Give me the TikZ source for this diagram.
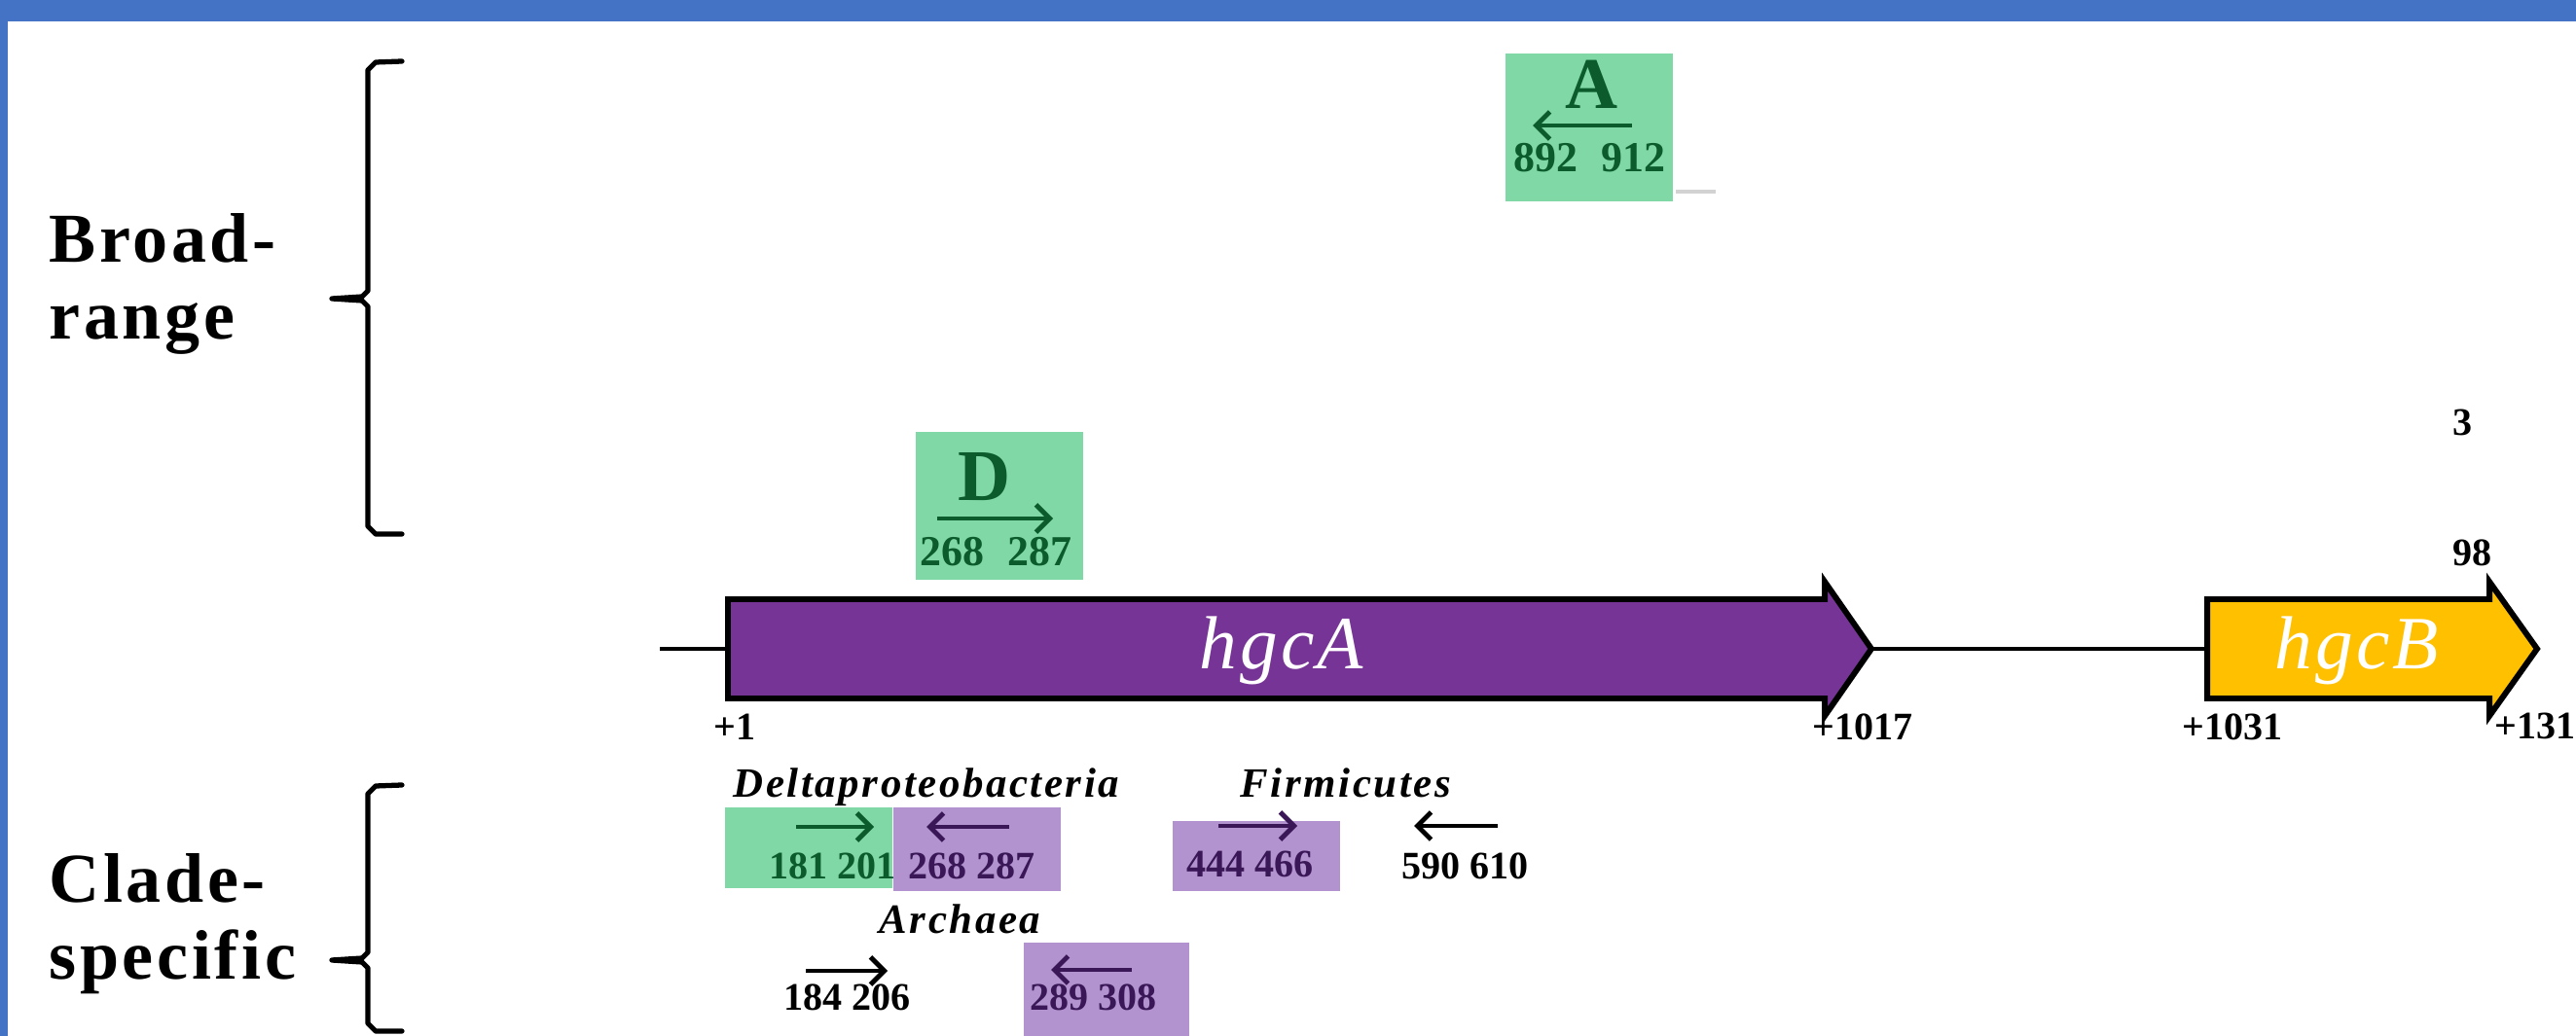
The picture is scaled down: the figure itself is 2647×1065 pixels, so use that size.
\documentclass[tikz,border=0pt]{standalone}
\usepackage{fontspec}
\setmainfont{Liberation Serif}
\usetikzlibrary{arrows.meta}
\definecolor{bandblue}{HTML}{4472C4}
\definecolor{boxgreen}{HTML}{80D8A6}
\definecolor{txtgreen}{HTML}{0B5B2C}
\definecolor{boxpurple}{HTML}{B393CF}
\definecolor{txtpurple}{HTML}{3A1858}
\definecolor{genea}{HTML}{763596}
\definecolor{geneb}{HTML}{FFC000}
\tikzset{
  side/.style={font=\fontsize{20.5}{22.4}\selectfont\bfseries\addfontfeature{LetterSpace=5}, align=left, inner sep=0, anchor=west},
  brace/.style={line width=1.5pt, line cap=round, line join=round},
  primer/.style={line width=1.4pt, -{Straight Barb[length=4pt,width=8pt]}},
  topnum/.style={font=\fontsize{12.5}{13}\selectfont\bfseries, inner sep=0, anchor=base west},
  num/.style={font=\fontsize{11.4}{12}\selectfont\bfseries, inner sep=0, anchor=base west},
  clade/.style={font=\fontsize{12.2}{13}\selectfont\bfseries\itshape\addfontfeature{LetterSpace=6}, inner sep=0, anchor=base west},
  big/.style={font=\fontsize{21.3}{22}\selectfont\bfseries, text=txtgreen, inner sep=0, anchor=base},
  genebox/.style={line width=1.7pt, line join=miter},
  genetext/.style={text=white, font=\fontsize{22}{24}\selectfont\itshape\addfontfeature{LetterSpace=4}, inner sep=0, anchor=base},
  backbone/.style={line width=1.2pt}
}
\begin{document}
\begin{tikzpicture}[x=0.1mm,y=-0.1mm]
\clip (0,0) rectangle (2647,1065);
\fill[white] (0,0) rectangle (2647,1065);
\fill[bandblue] (0,0) rectangle (2647,22);
\fill[bandblue] (0,0) rectangle (8,1065);

% side labels
\node[side] (broad) at (50,292) {Broad-\\range};
\node[side] (clade) at (50,950) {Clade-\\specific};

% braces
\draw[brace] (413,63) -- (386,64) -- (378,72) -- (378,299) -- (372,305) -- (341,307) -- (372,309) -- (378,315) -- (378,541) -- (386,549) -- (413,549);
\draw[brace] (413,807) -- (386,808) -- (378,816) -- (378,979) -- (372,985) -- (341,987) -- (372,989) -- (378,995) -- (378,1052) -- (386,1060) -- (413,1060);

% broad-range primers
\fill[boxgreen] (1547,55) rectangle (1719,207);
\node[big] (lA) at (1636,112) {A};
\coordinate (aS) at (1677,129);
\coordinate (aE) at (1575,129);
\draw[primer, txtgreen] (aS) -- (aE);
\node[topnum, text=txtgreen] (nA) at (1555,177) {892\hspace{0.55em}912};
\draw[gray!35, line width=1pt] (1722,197) -- (1763,197);

\fill[boxgreen] (941,444) rectangle (1113,596);
\node[big] (lD) at (1012,515) {D};
\coordinate (dS) at (963,533);
\coordinate (dE) at (1082,533);
\draw[primer, txtgreen] (dS) -- (dE);
\node[topnum, text=txtgreen] (nD) at (945,582) {268\hspace{0.55em}287};

% partly hidden labels
\node[num] (r3) at (2520,448) {3};
\node[num] (r98) at (2520,582) {98};

% gene map
\coordinate (start) at (678,667);
\coordinate (aL) at (748,667);
\coordinate (aT) at (1923,667);
\coordinate (bL) at (2268,667);
\draw[backbone] (start) -- (aL);
\draw[backbone] (aT) -- (bL);
\draw[genebox, fill=genea] (748,616) -- (1875,616) -- (1875,598) -- (aT) -- (1875,736) -- (1875,718) -- (748,718) -- cycle;
\draw[genebox, fill=geneb] (2268,616) -- (2558,616) -- (2558,598) -- (2607,667) -- (2558,736) -- (2558,718) -- (2268,718) -- cycle;
\node[genetext] (tA) at (1317,688) {hgcA};
\node[genetext] (tB) at (2422,688) {hgcB};
\node[num] (p1) at (733,761) {+1};
\node[num] (p1017) at (1862,761) {+1017};
\node[num] (p1031) at (2242,761) {+1031};
\node[num] (p1310) at (2563,760) {+1310};

% clade-specific primers
\fill[boxgreen] (745,830) rectangle (917,913);
\fill[boxpurple] (918,830) rectangle (1090,916);
\fill[boxpurple] (1205,844) rectangle (1377,916);
\fill[boxpurple] (1052,969) rectangle (1222,1065);

\node[clade] (delta) at (753,820) {Deltaproteobacteria};
\node[clade] (firm) at (1274,820) {Firmicutes};
\node[clade] (arch) at (903,960) {Archaea};

\coordinate (g1s) at (818,850); \coordinate (g1e) at (898,850);
\coordinate (p1s) at (1037,850); \coordinate (p1e) at (952,850);
\coordinate (p3s) at (1252,849); \coordinate (p3e) at (1333,849);
\coordinate (k1s) at (1539,849); \coordinate (k1e) at (1453,849);
\coordinate (k2s) at (828,998); \coordinate (k2e) at (912,998);
\coordinate (p2s) at (1163,997); \coordinate (p2e) at (1080,997);
\draw[primer, txtgreen] (g1s) -- (g1e);
\draw[primer, txtpurple] (p1s) -- (p1e);
\draw[primer, txtpurple] (p3s) -- (p3e);
\draw[primer, black] (k1s) -- (k1e);
\draw[primer, black] (k2s) -- (k2e);
\draw[primer, txtpurple] (p2s) -- (p2e);

\node[num, text=txtgreen] (n181) at (790,903) {181 201};
\node[num, text=txtpurple] (n268) at (933,903) {268 287};
\node[num, text=txtpurple] (n444) at (1219,902) {444 466};
\node[num] (n590) at (1440,903) {590 610};
\node[num] (n184) at (805,1038) {184 206};
\node[num, text=txtpurple] (n289) at (1058,1038) {289 308};
\end{tikzpicture}
\end{document}
